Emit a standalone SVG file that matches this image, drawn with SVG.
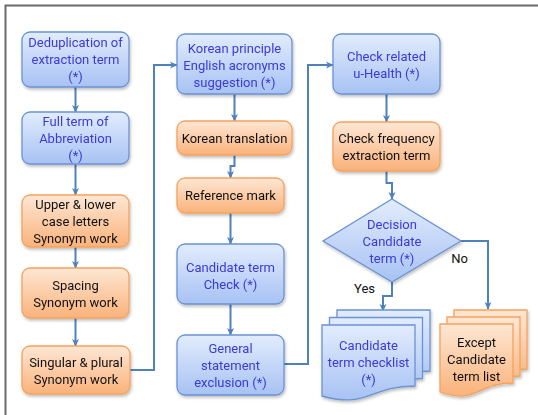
<svg xmlns="http://www.w3.org/2000/svg" width="538" height="415" viewBox="0 0 538 415">
  <defs>
    <linearGradient id="gBlue" x1="0" y1="0" x2="0" y2="1">
      <stop offset="0" stop-color="#e2ecfd"/>
      <stop offset="1" stop-color="#a7c2f3"/>
    </linearGradient>
    <linearGradient id="gOrange" x1="0" y1="0" x2="0" y2="1">
      <stop offset="0" stop-color="#fde7d5"/>
      <stop offset="1" stop-color="#fab27a"/>
    </linearGradient>
    <filter id="shadow" x="-10%" y="-10%" width="125%" height="130%">
      <feDropShadow dx="1" dy="2" stdDeviation="1.5" flood-color="#000" flood-opacity="0.25"/>
    </filter>
    <marker id="arrow" viewBox="0 0 8 8" refX="7" refY="4" markerWidth="8" markerHeight="8" markerUnits="userSpaceOnUse" orient="auto">
      <path d="M0,0.5 L7.5,4 L0,7.5 L2,4 Z" fill="#4f81bd"/>
    </marker>
    <!-- flowchart document sheets -->
    <path id="docBlue" d="M0,0 H93 V61 C46.5,61 46.5,84 0,71 Z"/>
    <path id="docOrange" d="M0,0 H73 V59 C36.5,59 36.5,81 0,68 Z"/>
  </defs>
  <style>
    text { font-family: Roboto, "Liberation Sans", sans-serif; font-size: 13px; text-anchor: middle; }
    .blue rect, .blue path, .blue use { fill: url(#gBlue); stroke: #6a93d4; stroke-width: 1.3; }
    .orange rect, .orange use { fill: url(#gOrange); stroke: #f5a25c; stroke-width: 1.3; }
    .blue text { fill: #3a3ad8; }
    .orange text, .label { fill: #111; }
    .node { filter: url(#shadow); }
    .conn path { fill: none; stroke: #4f81bd; stroke-width: 2; marker-end: url(#arrow); }
    .frame { fill: none; stroke: #6b6b6b; stroke-width: 2; }
  </style>

  <!-- outer frame -->
  <path class="frame" d="M5.5,415 V5.5 H538"/>

  <!-- connectors -->
  <g id="connectors" class="conn">
    <path d="M75.5,87 V112"/>
    <path d="M75.5,164 V195"/>
    <path d="M75.5,247 V268"/>
    <path d="M75.5,318 V346"/>
    <path d="M130,370 H154 V65 H177"/>
    <path d="M234.5,94 V121"/>
    <path d="M234.5,155 V166 H230.5 V178"/>
    <path d="M230.5,213 V244"/>
    <path d="M230.5,304 V335"/>
    <path d="M284,364 H308 V65 H333"/>
    <path d="M386.5,94 V122"/>
    <path d="M386.5,171 V183 H392 V199"/>
    <path d="M392,282 V296 H383 V311"/>
    <path d="M461,241 H488 V309"/>
  </g>

  <!-- left column -->
  <g id="dedup" class="node blue">
    <rect x="22" y="32" width="107" height="55" rx="8"/>
    <text x="75.5" y="47">Deduplication of</text>
    <text x="75.5" y="64">extraction term</text>
    <text x="75.5" y="81">(*)</text>
  </g>
  <g id="fullterm" class="node blue">
    <rect x="22" y="112" width="107" height="52" rx="8"/>
    <text x="75.5" y="126">Full term of</text>
    <text x="75.5" y="143">Abbreviation</text>
    <text x="75.5" y="160">(*)</text>
  </g>
  <g id="case" class="node orange">
    <rect x="22" y="195" width="107" height="52" rx="8"/>
    <text x="75.5" y="209">Upper &amp; lower</text>
    <text x="75.5" y="226">case letters</text>
    <text x="75.5" y="243">Synonym work</text>
  </g>
  <g id="spacing" class="node orange">
    <rect x="22" y="268" width="107" height="50" rx="8"/>
    <text x="75.5" y="290">Spacing</text>
    <text x="75.5" y="307">Synonym work</text>
  </g>
  <g id="plural" class="node orange">
    <rect x="22" y="346" width="108" height="48" rx="8"/>
    <text x="76" y="367">Singular &amp; plural</text>
    <text x="76" y="384">Synonym work</text>
  </g>

  <!-- middle column -->
  <g id="acronyms" class="node blue">
    <rect x="177" y="34" width="115" height="60" rx="8"/>
    <text x="234.5" y="53">Korean principle</text>
    <text x="234.5" y="70">English acronyms</text>
    <text x="234.5" y="87">suggestion (*)</text>
  </g>
  <g id="translation" class="node orange">
    <rect x="177" y="121" width="115" height="34" rx="8"/>
    <text x="234.5" y="143">Korean translation</text>
  </g>
  <g id="refmark" class="node orange">
    <rect x="177" y="178" width="107" height="35" rx="8"/>
    <text x="230.5" y="200">Reference mark</text>
  </g>
  <g id="candcheck" class="node blue">
    <rect x="177" y="244" width="107" height="60" rx="8"/>
    <text x="230.5" y="272">Candidate term</text>
    <text x="230.5" y="289">Check (*)</text>
  </g>
  <g id="general" class="node blue">
    <rect x="177" y="335" width="107" height="60" rx="8"/>
    <text x="230.5" y="353">General</text>
    <text x="230.5" y="370">statement</text>
    <text x="230.5" y="387">exclusion (*)</text>
  </g>

  <!-- right column -->
  <g id="uhealth" class="node blue">
    <rect x="333" y="34" width="107" height="60" rx="8"/>
    <text x="386.5" y="61">Check related</text>
    <text x="386.5" y="78">u-Health (*)</text>
  </g>
  <g id="frequency" class="node orange">
    <rect x="333" y="122" width="107" height="49" rx="8"/>
    <text x="386.5" y="143">Check frequency</text>
    <text x="386.5" y="160">extraction term</text>
  </g>
  <g id="decision" class="node blue">
    <path d="M392,199 L461,241 L392,282 L323,241 Z"/>
    <text x="392" y="229">Decision</text>
    <text x="392" y="246">Candidate</text>
    <text x="392" y="263">term (*)</text>
  </g>
  <text class="label" x="364.5" y="293">Yes</text>
  <text class="label" x="459.5" y="263">No</text>

  <g id="checklist" class="node blue">
    <use href="#docBlue" x="337" y="310"/>
    <use href="#docBlue" x="329.5" y="317.5"/>
    <use href="#docBlue" x="322" y="325"/>
    <text x="368.5" y="350">Candidate</text>
    <text x="368.5" y="367">term checklist</text>
    <text x="368.5" y="384">(*)</text>
  </g>
  <g id="exceptlist" class="node orange">
    <use href="#docOrange" x="454" y="310"/>
    <use href="#docOrange" x="447" y="317"/>
    <use href="#docOrange" x="440" y="324"/>
    <text x="476.5" y="347">Except</text>
    <text x="476.5" y="364">Candidate</text>
    <text x="476.5" y="381">term list</text>
  </g>
</svg>
